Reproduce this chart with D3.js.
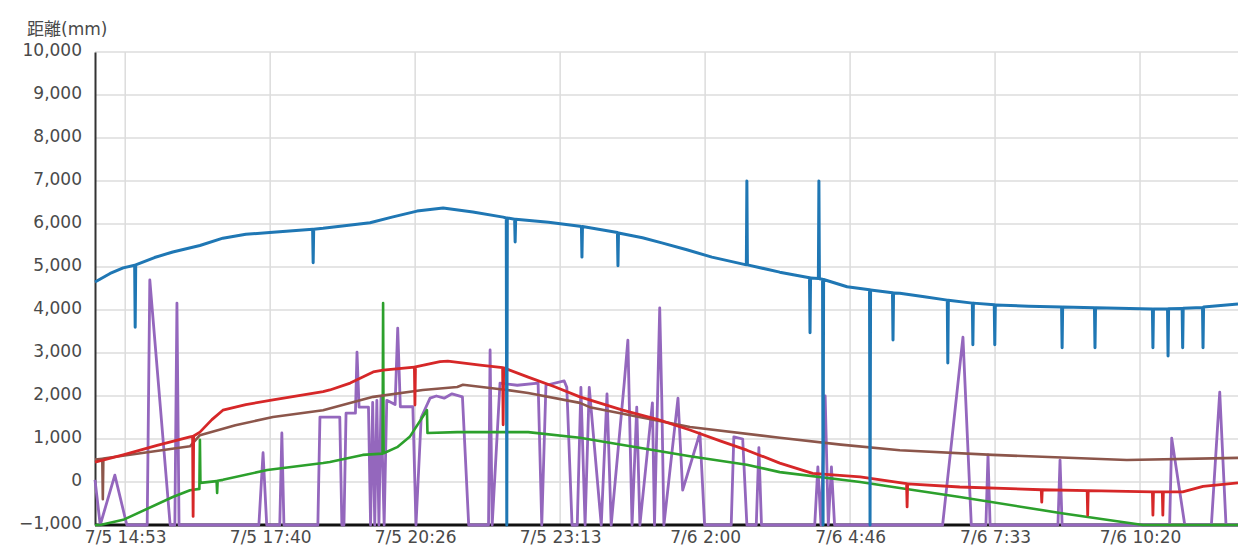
<!DOCTYPE html>
<html>
<head>
<meta charset="utf-8">
<script src="https://cdn.jsdelivr.net/npm/d3@7"></script>
<style>
  body { margin: 0; background: #fff; }
  svg text { font-family: "DejaVu Sans", "Noto Sans CJK JP", sans-serif; }
</style>
</head>
<body>
<div id="chart"></div>
<script>
// time is hours since 7/5 0:00, value is distance in mm
var xStart = 14.31, xEnd = 36.21;
var yTicks = [-1000, 0, 1000, 2000, 3000, 4000, 5000, 6000, 7000, 8000, 9000, 10000];
var yLabel = "距離(mm)";

var blue = [
  [14.31, 4650], [14.60, 4850], [14.85, 4980], [15.07, 5040], [15.08, 3600], [15.09, 5050],
  [15.45, 5220], [15.80, 5350], [16.32, 5500], [16.76, 5670], [17.20, 5760], [17.72, 5810],
  [18.48, 5880], [18.49, 5100], [18.50, 5880], [18.68, 5900],
  [19.58, 6030], [20.00, 6160], [20.48, 6300], [20.98, 6370], [21.55, 6280], [22.13, 6160],
  [22.19, 6140], [22.20, -1000], [22.21, 6140],
  [22.35, 6110], [22.36, 5580], [22.37, 6110],
  [23.00, 6040], [23.60, 5950], [23.63, 5940], [23.64, 5230], [23.65, 5940],
  [24.32, 5800], [24.33, 5030], [24.34, 5790],
  [24.80, 5680], [25.17, 5560], [25.65, 5400], [26.13, 5230],
  [26.79, 5050], [26.80, 7000], [26.81, 5050],
  [27.43, 4880],
  [28.00, 4750], [28.01, 3470], [28.02, 4745],
  [28.17, 4730], [28.18, 7000], [28.19, 4725],
  [28.25, 4715], [28.26, -1000], [28.27, 4710],
  [28.72, 4540],
  [29.15, 4470], [29.16, -1000], [29.17, 4465],
  [29.59, 4400], [29.60, 3300], [29.61, 4395], [29.73, 4390],
  [30.20, 4310], [30.64, 4230], [30.65, 2770], [30.66, 4225],
  [31.12, 4160], [31.13, 3190], [31.14, 4160],
  [31.54, 4120], [31.55, 3190], [31.56, 4115],
  [32.20, 4090], [32.83, 4070], [32.84, 3120], [32.85, 4070],
  [33.46, 4050], [33.47, 3120], [33.48, 4050],
  [34.57, 4025], [34.58, 3120], [34.59, 4025],
  [34.86, 4025], [34.87, 2930], [34.88, 4030],
  [35.14, 4035], [35.15, 3120], [35.16, 4040],
  [35.53, 4060], [35.54, 3120], [35.55, 4070],
  [36.21, 4140]
];

var red = [
  [14.31, 460], [14.85, 630], [15.50, 850], [16.13, 1050],
  [16.18, 1060], [16.19, -800], [16.20, 1070],
  [16.32, 1160], [16.55, 1450], [16.76, 1670], [17.20, 1800], [17.72, 1910], [18.68, 2100], [18.81, 2140],
  [19.20, 2300], [19.64, 2560], [19.83, 2600],
  [20.43, 2670], [20.44, 1790], [20.45, 2675],
  [20.92, 2800], [21.07, 2810], [21.69, 2720],
  [22.12, 2660], [22.13, 1330], [22.14, 2655],
  [22.61, 2440], [23.13, 2210], [23.60, 1980], [24.42, 1670], [25.10, 1450], [25.71, 1210],
  [26.30, 950], [26.80, 740], [27.43, 440], [28.06, 200], [28.97, 120],
  [29.86, -40], [29.87, -580], [29.88, -45],
  [30.88, -116],
  [32.44, -180], [32.45, -470], [32.46, -180],
  [33.32, -200], [33.33, -770], [33.34, -200],
  [34.57, -230], [34.58, -770], [34.59, -230],
  [34.76, -230], [34.77, -770], [34.78, -230],
  [35.15, -230], [35.54, -100], [36.21, -20]
];

var brown = [
  [14.31, 520], [14.45, 540], [14.46, -400], [14.47, 545],
  [16.13, 830], [16.32, 1090], [17.00, 1320], [17.72, 1510], [18.68, 1670], [19.64, 1980],
  [20.59, 2140], [21.25, 2210], [21.36, 2260], [22.20, 2140], [22.61, 2070],
  [23.60, 1840], [23.79, 1740], [25.71, 1280], [27.43, 1030], [28.60, 870], [29.73, 740],
  [31.51, 630], [34.08, 510], [36.21, 560]
];

var green = [
  [14.31, -1000], [14.41, -1000], [14.85, -880], [15.80, -350], [16.13, -190],
  [16.31, -160], [16.32, 980], [16.33, -20],
  [16.64, 20], [16.65, -256], [16.66, 30],
  [16.76, 50], [17.61, 280], [18.68, 440], [18.81, 465], [19.44, 630],
  [19.82, 660], [19.83, 4160], [19.84, 670],
  [20.10, 810], [20.34, 1050], [20.67, 1670], [20.68, 1140],
  [21.25, 1160], [22.61, 1160], [23.60, 1030], [25.71, 600], [26.80, 400],
  [27.43, 230], [28.97, 0], [29.73, -140], [30.88, -350], [32.80, -720],
  [34.39, -1000], [36.21, -1000]
];

var purple = [
  [14.31, 50], [14.41, -1000], [14.69, 160], [14.92, -1000],
  [15.31, -1000], [15.36, 4700], [15.75, -1000], [15.84, -1000], [15.88, 4160], [15.92, -1000],
  [17.45, -1000], [17.53, 680], [17.60, -1000],
  [17.85, -1000], [17.89, 1140], [17.93, -1000],
  [18.58, -1000], [18.62, 1510], [19.00, 1510], [19.04, -1000], [19.08, -1000],
  [19.12, 1600], [19.30, 1600], [19.33, 3020], [19.37, 1740], [19.55, 1740],
  [19.59, -1000], [19.63, 1850], [19.67, -1000], [19.71, 1900], [19.75, -1000],
  [19.79, 1950], [19.85, -1000], [19.90, 1900], [20.06, 1800], [20.11, 3580],
  [20.16, 1750], [20.40, 1750], [20.46, -1000], [20.56, 1500], [20.73, 1950],
  [20.85, 2000], [21.00, 1950], [21.15, 2050], [21.35, 1980], [21.47, -1000],
  [21.85, -1000], [21.88, 3070], [21.92, -1000],
  [22.07, 2300], [22.40, 2250], [22.80, 2300], [22.87, -1000], [22.95, 2250],
  [23.30, 2350], [23.35, 2200], [23.45, -1000], [23.55, -1000], [23.62, 2200],
  [23.70, -1000], [23.78, 2200], [24.01, -1000], [24.12, 2050], [24.20, -1000],
  [24.45, 2300], [24.52, 3300], [24.60, -1000], [24.69, 1740], [24.75, -1000],
  [24.99, 1840], [25.03, -1000], [25.13, 4050], [25.17, 1900], [25.21, -1000],
  [25.48, 1950], [25.57, -190], [25.90, 1140], [25.99, -1000],
  [26.50, -1000], [26.55, 1050], [26.72, 1000], [26.80, -1000],
  [26.98, -1000], [27.03, 800], [27.08, -1000],
  [28.10, -1000], [28.16, 350], [28.22, -1000], [28.30, 2000], [28.36, -1000],
  [28.42, 350], [28.48, -1000],
  [30.55, -1000], [30.94, 3370], [31.10, -1000],
  [31.38, -1000], [31.42, 630], [31.46, -1000],
  [32.76, -1000], [32.80, 510], [32.84, -1000],
  [34.90, -1000], [34.94, 1020], [35.19, -1000],
  [35.70, -1000], [35.86, 2090], [35.98, -1000], [36.21, -1000]
];

var black = [[14.31, -1000], [36.21, -1000]];

var series = [
  { data: black, color: "#111111", width: 3 },
  { data: purple, color: "#9467bd", width: 2.8 },
  { data: green, color: "#2ca02c", width: 2.6 },
  { data: brown, color: "#8c564b", width: 2.6 },
  { data: red, color: "#d62728", width: 2.8 },
  { data: blue, color: "#1f77b4", width: 3 }
];

var width = 1238, height = 556;
var margin = { top: 52, right: 0, bottom: 31, left: 95 };

var base = new Date(2020, 6, 5, 0, 0, 0).getTime();
function toDate(h) { return new Date(base + h * 3600000); }

var x = d3.scaleTime()
  .domain([toDate(xStart), toDate(xEnd)])
  .range([margin.left, width - margin.right]);
var y = d3.scaleLinear()
  .domain([-1000, 10000])
  .range([height - margin.bottom, margin.top]);

// ticks every 10000 seconds starting 7/5 14:53:20
var xTicks = [];
for (var i = 0; i < 8; i++) {
  xTicks.push(new Date(base + (14 * 3600 + 53 * 60 + 20 + i * 10000) * 1000));
}

var svg = d3.select("#chart").append("svg")
  .attr("width", width)
  .attr("height", height);

// grid
svg.append("g")
  .selectAll("line.h")
  .data(yTicks)
  .join("line")
  .attr("x1", margin.left).attr("x2", width)
  .attr("y1", d => y(d)).attr("y2", d => y(d))
  .attr("stroke", "#dcdcdc").attr("stroke-width", 1.5);

svg.append("g")
  .selectAll("line.v")
  .data(xTicks)
  .join("line")
  .attr("x1", d => x(d)).attr("x2", d => x(d))
  .attr("y1", margin.top).attr("y2", height - margin.bottom)
  .attr("stroke", "#dcdcdc").attr("stroke-width", 1.5);

// y axis
var yAxis = svg.append("g")
  .attr("transform", "translate(" + margin.left + ",0)")
  .call(d3.axisLeft(y).tickValues(yTicks).tickFormat(d3.format(",")).tickSize(0).tickPadding(13));
yAxis.select(".domain").attr("stroke", "#333").attr("stroke-width", 2);
yAxis.selectAll("text").attr("font-size", 17).attr("fill", "#4a4a4a").attr("dy", "0.2em");

// x axis
var xAxis = svg.append("g")
  .attr("transform", "translate(0," + (height - margin.bottom) + ")")
  .call(d3.axisBottom(x).tickValues(xTicks).tickFormat(d3.timeFormat("%-m/%-d %-H:%M")).tickSize(0).tickPadding(6));
xAxis.select(".domain").remove();
xAxis.selectAll("text").attr("font-size", 17).attr("fill", "#4a4a4a");

svg.append("text")
  .attr("x", 27).attr("y", 35)
  .attr("font-size", 17).attr("fill", "#4a4a4a")
  .text(yLabel);

// lines
var line = d3.line()
  .x(d => x(toDate(d[0])))
  .y(d => y(d[1]));

svg.append("g")
  .selectAll("path")
  .data(series)
  .join("path")
  .attr("d", d => line(d.data))
  .attr("fill", "none")
  .attr("stroke", d => d.color)
  .attr("stroke-width", d => d.width)
  .attr("stroke-linejoin", "round");
</script>
</body>
</html>
